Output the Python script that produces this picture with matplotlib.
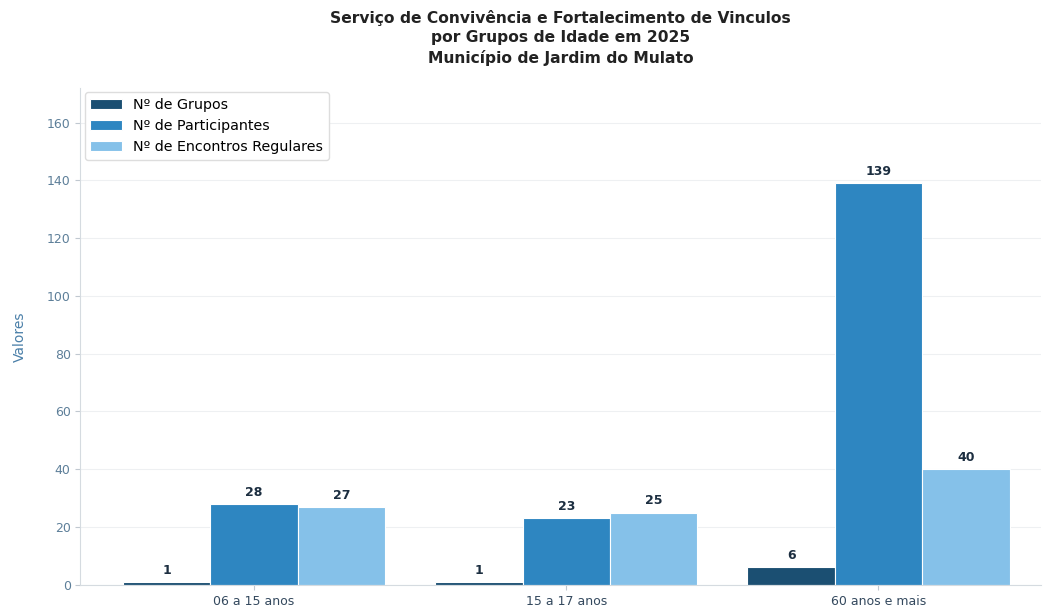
import numpy as np
import matplotlib
matplotlib.use("Agg")
import matplotlib.pyplot as plt

# faixas etarias e series
faixas = ["06 a 15 anos", "15 a 17 anos", "60 anos e mais"]
grupos = [1, 1, 6]
participantes = [28, 23, 139]
encontros = [27, 25, 40]

series = ["Nº de Grupos", "Nº de Participantes", "Nº de Encontros Regulares"]
cores = ["#1b4f72", "#2e86c1", "#85c1e9"]

fig = plt.figure(figsize=(10.44, 6.06), dpi=100)
ax = fig.add_axes([0.077, 0.035, 0.92, 0.82])

x = np.arange(len(faixas))
w = 0.28
for i, (vals, nome, cor) in enumerate(zip([grupos, participantes, encontros], series, cores)):
    barras = ax.bar(x + (i - 1) * w, vals, w, color=cor, edgecolor="white", linewidth=0.8, label=nome)
    for b, v in zip(barras, vals):
        ax.text(b.get_x() + b.get_width() / 2, v + 1.8, str(v), ha="center", va="bottom",
                fontsize=9, fontweight="bold", color="#1c2e40")

ax.set_xlim(-0.556, 2.52)
ax.set_ylim(0, 172)
ax.set_yticks(range(0, 161, 20))
ax.set_xticks(x)
ax.set_xticklabels(faixas, fontsize=9, color="#34495e")
ax.tick_params(axis="y", labelsize=9, labelcolor="#5d7f99", color="#c0c8d0")
ax.tick_params(axis="x", color="#c0c8d0")
ax.set_ylabel("Valores", fontsize=10, color="#4a7fa8", labelpad=14)

ax.yaxis.grid(True, color="#eef0f2", linewidth=0.8)
ax.set_axisbelow(True)
for s in ["top", "right"]:
    ax.spines[s].set_visible(False)
for s in ["left", "bottom"]:
    ax.spines[s].set_color("#d5dbe0")

ax.legend(loc="upper left", fontsize=10.3, frameon=True, edgecolor="#dddddd", framealpha=1,
          handlelength=2.2, borderaxespad=0.3)

ax.set_title("Serviço de Convivência e Fortalecimento de Vinculos\npor Grupos de Idade em 2025\nMunicípio de Jardim do Mulato",
             fontsize=11.2, fontweight="bold", color="#222222", pad=18, linespacing=1.35)

fig.savefig("out.png", dpi=100)
